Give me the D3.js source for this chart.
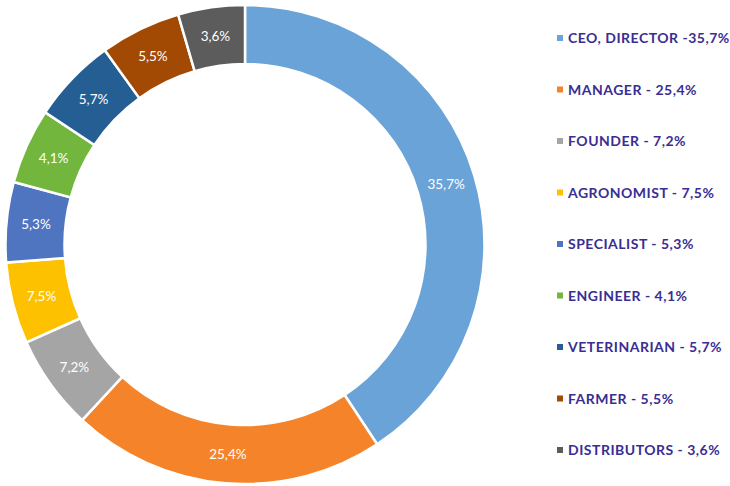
<!DOCTYPE html>
<html>
<head>
<meta charset="utf-8">
<script src="https://cdn.jsdelivr.net/npm/d3@7"></script>
<style>
    html, body { margin: 0; padding: 0; background: #ffffff; }
    #chart { width: 730px; height: 486px; }
    .slice-label { font-family: Lato, "Open Sans", sans-serif; font-size: 13.5px; fill: #ffffff; }
    .legend-label { font-family: Lato, "Open Sans", sans-serif; font-size: 14px; font-weight: bold; letter-spacing: 0.5px; fill: #3a2d93; }
</style>
</head>
<body>
<div id="chart"></div>
<script>
// categories, clockwise from 12 o'clock
const categories = ['CEO, DIRECTOR', 'MANAGER', 'FOUNDER', 'AGRONOMIST', 'SPECIALIST',
    'ENGINEER', 'VETERINARIAN', 'FARMER', 'DISTRIBUTORS'];

// slice sizes as drawn in the picture (share of the ring, in %)
const shares = [40.7, 21.2, 6.4, 5.5, 5.4, 5.1, 5.75, 5.45, 4.5];

// percentages printed on the slices and in the legend
const labels = ['35,7%', '25,4%', '7,2%', '7,5%', '5,3%', '4,1%', '5,7%', '5,5%', '3,6%'];

const colors = ['#6aa3d8', '#f4832a', '#a5a5a5', '#fdc100', '#4f74c0',
    '#72b63e', '#245e93', '#a24a04', '#5c5c5c'];

(function () {
    'use strict';

    const width = 730;
    const height = 486;

    const svg = d3.select('#chart').append('svg')
        .attr('width', width).attr('height', height);

    // 圆环参数
    const cx = 245, cy = 244.5;
    const outerR = 239.5, innerR = 180.5;

    const pie = d3.pie().sort(null).value(function (d) { return d; });
    const arc = d3.arc().innerRadius(innerR).outerRadius(outerR);

    const arcs = pie(shares);

    const ring = svg.append('g').attr('transform', 'translate(' + cx + ',' + cy + ')');

    ring.selectAll('path').data(arcs).enter().append('path')
        .attr('d', arc)
        .attr('fill', function (d, i) { return colors[i]; })
        .attr('stroke', '#ffffff')
        .attr('stroke-width', 2.5)
        .attr('stroke-linejoin', 'miter');

    ring.selectAll('text').data(arcs).enter().append('text')
        .attr('class', 'slice-label')
        .attr('transform', function (d) { return 'translate(' + arc.centroid(d) + ')'; })
        .attr('text-anchor', 'middle')
        .attr('dy', '0.35em')
        .text(function (d, i) { return labels[i]; });

    // 图例
    const legendY = d3.scalePoint().domain(categories).range([38, 450]);

    const legend = svg.append('g').attr('class', 'legend');

    const rows = legend.selectAll('g').data(categories).enter().append('g')
        .attr('transform', function (d) { return 'translate(557,' + legendY(d) + ')'; });

    rows.append('rect')
        .attr('x', 0).attr('y', -3).attr('width', 6).attr('height', 6)
        .attr('fill', function (d, i) { return colors[i]; });

    rows.append('text')
        .attr('class', 'legend-label')
        .attr('x', 11)
        .attr('dy', '0.36em')
        .text(function (d, i) {
            const sep = (i === 0) ? ' -' : ' - ';
            return d + sep + labels[i];
        });
}());
</script>
</body>
</html>
